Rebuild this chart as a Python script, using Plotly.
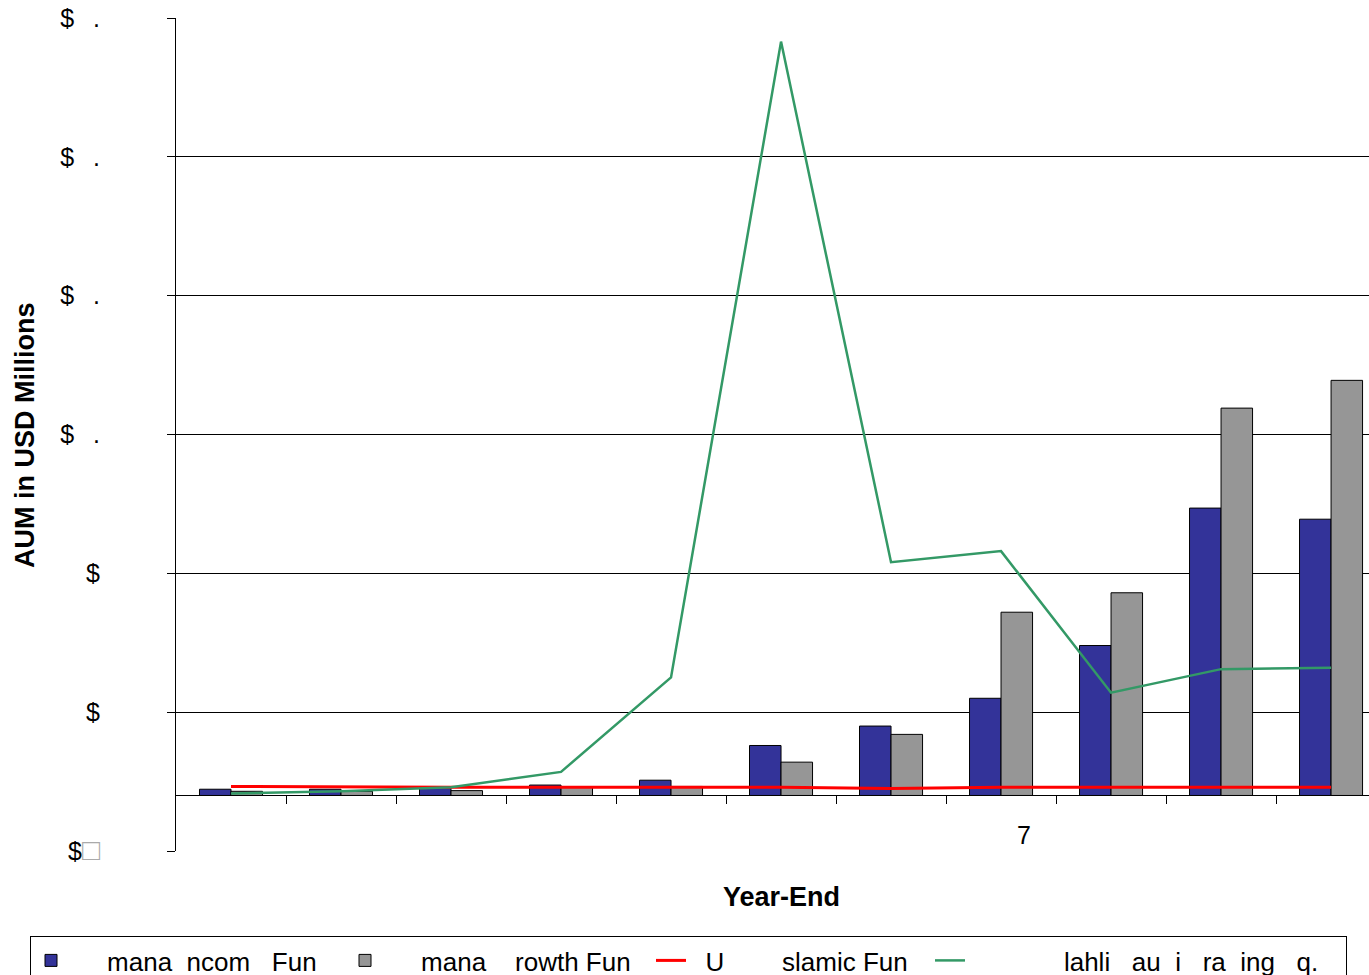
import plotly.graph_objects as go

# category index (labels unreadable in the source except a lone "7")
categories = list(range(11))

income_fund = [0.045, 0.045, 0.06, 0.075, 0.11, 0.36, 0.50, 0.70, 1.08, 2.07, 1.99]
growth_fund = [0.03, 0.03, 0.035, 0.06, 0.065, 0.24, 0.44, 1.32, 1.46, 2.79, 2.99]
islamic_fund = [0.065, 0.06, 0.06, 0.06, 0.06, 0.06, 0.05, 0.06, 0.06, 0.06, 0.06]
trading_eq = [0.015, 0.03, 0.06, 0.17, 0.85, 5.43, 1.68, 1.76, 0.74, 0.91, 0.92]

y_tickvals = [-0.4, 0.6, 1.6, 2.6, 3.6, 4.6, 5.6]
dot_label = "$\u00a0\u00a0\u2009."
y_ticktext = ["$<span style='color:#aaaaaa;font-size:30px'>\u25a1</span>", "$", "$",
              dot_label, dot_label, dot_label, dot_label]

names = [
    "\u00a0" * 5 + "mana\u00a0\u00a0ncom\u00a0\u00a0\u00a0Fun",
    "\u00a0" * 5 + "mana\u00a0\u00a0\u00a0\u00a0rowth\u00a0Fun",
    "\u00a0\u00a0U\u00a0\u00a0\u00a0\u00a0\u00a0\u00a0\u00a0\u00a0slamic\u00a0Fun",
    "\u00a0" * 13 + "lahli\u00a0\u00a0\u00a0au\u00a0\u00a0i\u00a0\u00a0\u00a0ra\u00a0\u00a0ing\u00a0\u00a0\u00a0q.",
]

FONT = "Liberation Sans, Arial, sans-serif"

# figure is a little taller than the 975px window so the legend box runs off the
# bottom edge, as in the reference
FIG_W, FIG_H = 1369, 985
M_L, M_R, M_T, M_B = 176, 0, 18, 134
plot_w = FIG_W - M_L - M_R
plot_h = FIG_H - M_T - M_B

fig = go.Figure()
fig.add_trace(go.Bar(x=categories, y=income_fund, name=names[0],
                     marker=dict(color="#333399", line=dict(color="black", width=1)),
                     legendwidth=269))
fig.add_trace(go.Bar(x=categories, y=growth_fund, name=names[1],
                     marker=dict(color="#969696", line=dict(color="black", width=1)),
                     legendwidth=261))
fig.add_trace(go.Scatter(x=categories, y=islamic_fund, name=names[2], mode="lines",
                         line=dict(color="#FF0000", width=3), legendwidth=234))
fig.add_trace(go.Scatter(x=categories, y=trading_eq, name=names[3], mode="lines",
                         line=dict(color="#339966", width=2.5), legendwidth=371))

ymin, ymax = y_tickvals[0], y_tickvals[-1]

fig.update_layout(
    width=FIG_W, height=FIG_H, autosize=False,
    margin=dict(l=M_L, r=M_R, t=M_T, b=M_B),
    plot_bgcolor="white", paper_bgcolor="white",
    barmode="group", bargap=0.427, bargroupgap=0,
    font=dict(family=FONT, size=25, color="black"),
    showlegend=True,
    legend=dict(orientation="h",
                x=(30 - M_L) / plot_w, xanchor="left",
                y=(FIG_H - M_B - 936) / plot_h, yanchor="top",
                bordercolor="black", borderwidth=1, bgcolor="white",
                font=dict(family=FONT, size=26, color="black"),
                traceorder="normal"),
    xaxis=dict(range=[-0.5, 10.345], anchor="free", position=-ymin / (ymax - ymin),
               showline=True, linecolor="black", linewidth=1,
               tickmode="array", tickvals=[c + 0.5 for c in categories[:-1]],
               ticks="outside", ticklen=8, tickcolor="black", showticklabels=False,
               showgrid=False, zeroline=False),
    yaxis=dict(range=[ymin, ymax], tickmode="array", tickvals=y_tickvals, ticktext=y_ticktext,
               showline=True, linecolor="black", linewidth=1,
               ticks="outside", ticklen=8, tickcolor="black",
               ticklabelstandoff=62,
               showgrid=True, gridcolor="black", gridwidth=1, zeroline=False,
               tickfont=dict(family=FONT, size=25)),
    annotations=[
        dict(text="<b>AUM in USD Millions</b>", xref="paper", yref="paper",
             x=(25 - M_L) / plot_w, y=0.4994, xanchor="center", yanchor="middle",
             textangle=-90, showarrow=False, font=dict(family=FONT, size=27)),
        dict(text="<b>Year-End</b>", xref="x", yref="paper", x=5.0,
             y=(FIG_H - M_B - 897) / plot_h,
             xanchor="center", yanchor="middle",
             showarrow=False, font=dict(family=FONT, size=27)),
        dict(text="7", xref="x", yref="y", x=7.21, y=-0.288, xanchor="center", yanchor="middle",
             showarrow=False, font=dict(family=FONT, size=25)),
    ],
)

fig.write_html("out.html", config={"responsive": False, "displayModeBar": False},
               post_script="document.body.style.margin='0';document.body.style.overflow='hidden';")
